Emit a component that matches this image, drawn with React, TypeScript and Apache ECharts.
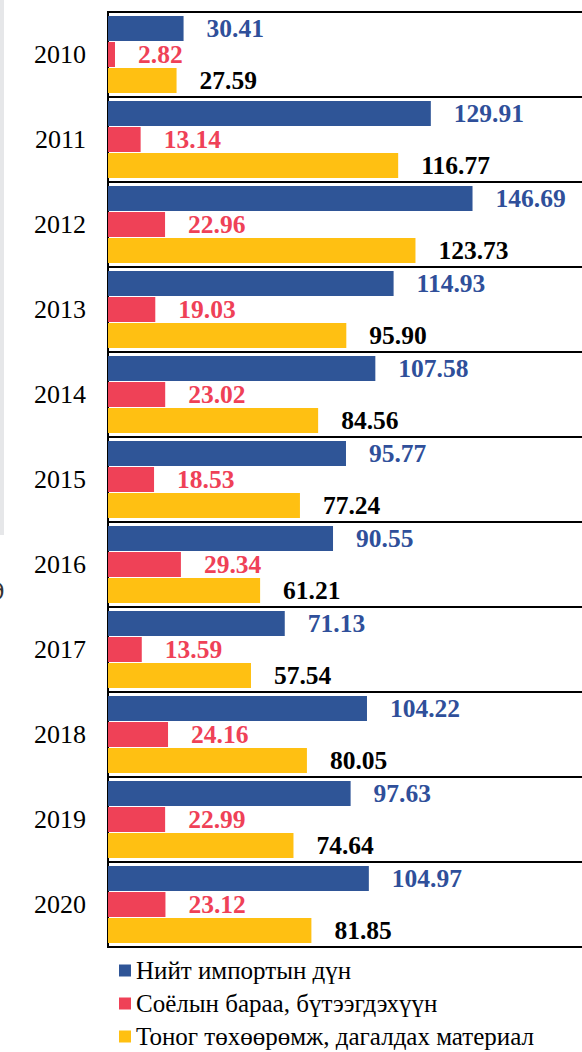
import React, { useEffect, useRef } from "react";
import * as echarts from "echarts";

const years = ["2010", "2011", "2012", "2013", "2014", "2015", "2016", "2017", "2018", "2019", "2020"];
const totalImport = [30.41, 129.91, 146.69, 114.93, 107.58, 95.77, 90.55, 71.13, 104.22, 97.63, 104.97];
const culturalGoods = [2.82, 13.14, 22.96, 19.03, 23.02, 18.53, 29.34, 13.59, 24.16, 22.99, 23.12];
const equipment = [27.59, 116.77, 123.73, 95.9, 84.56, 77.24, 61.21, 57.54, 80.05, 74.64, 81.85];
const seriesNames = [
  "Нийт импортын дүн",
  "Соёлын бараа, бүтээгдэхүүн",
  "Тоног төхөөрөмж, дагалдах материал",
];

const FONT = "'Liberation Serif', 'Times New Roman', serif";

export default function App() {
  const ref = useRef<HTMLDivElement>(null);
  useEffect(() => {
    if (!ref.current) return;
    const chart = echarts.init(ref.current, undefined, { renderer: "svg" });
    const mkLabel = (color: string) => ({
      show: true,
      position: "right",
      distance: 23,
      color,
      fontFamily: FONT,
      fontWeight: "bold",
      fontSize: 25.5,
      formatter: (p: any) => Number(p.value).toFixed(2),
    });
    const mkSeries = (name: string, data: number[], color: string, labelColor: string) => ({
      name,
      type: "bar",
      data,
      barWidth: 25,
      barGap: "4%",
      itemStyle: { color },
      label: mkLabel(labelColor),
    });
    const legendTops = [958, 991, 1024];
    chart.setOption({
      animation: false,
      backgroundColor: "#fff",
      grid: {
        left: 108,
        top: 12,
        bottom: 105,
        right: 35,
        show: true,
        borderColor: "#000",
        borderWidth: 2,
        backgroundColor: "transparent",
      },
      xAxis: {
        type: "value",
        min: 0,
        max: 200,
        show: false,
      },
      yAxis: {
        type: "category",
        data: years,
        inverse: true,
        axisLine: { show: true, lineStyle: { color: "#000", width: 2 } },
        axisTick: { show: false },
        axisLabel: {
          margin: 22,
          fontSize: 26,
          fontFamily: FONT,
          color: "#000",
        },
        splitLine: { show: true, lineStyle: { color: "#000", width: 2 } },
      },
      legend: seriesNames.map((n, i) => ({
        orient: "vertical",
        left: 119,
        top: legendTops[i],
        padding: 0,
        itemWidth: 12,
        itemHeight: 12,
        itemGap: 4,
        icon: "rect",
        textStyle: { fontFamily: FONT, fontSize: 25, color: "#000" },
        data: [n],
      })),
      graphic: [
        { type: "rect", left: 0, top: 0, shape: { width: 4, height: 535 }, style: { fill: "#e6e7e9" } },
        {
          type: "text",
          x: -9,
          y: 578,
          style: { text: "д", fontFamily: FONT, fontStyle: "italic", fontSize: 26, fill: "#333" },
        },
      ],
      series: [
        mkSeries(seriesNames[0], totalImport, "#2F5597", "#2F4F9A"),
        mkSeries(seriesNames[1], culturalGoods, "#EF4157", "#EF4157"),
        mkSeries(seriesNames[2], equipment, "#FFC012", "#000"),
      ],
    });
    return () => chart.dispose();
  }, []);
  return (
    <div style={{ position: "absolute", left: 0, top: 0, width: 582, height: 1052, overflow: "hidden", background: "#fff" }}>
      <div ref={ref} style={{ width: 640, height: 1052 }} />
    </div>
  );
}
